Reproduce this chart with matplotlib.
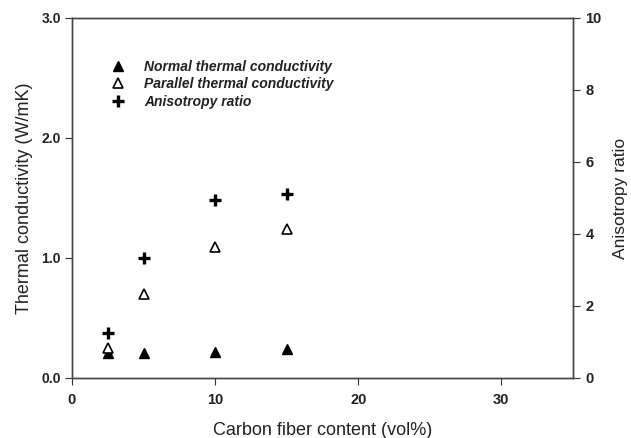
import matplotlib.pyplot as plt

plt.rcParams['font.family'] = ['Liberation Sans', 'DejaVu Sans']

# carbon fiber content (vol%)
fiber = [2.5, 5, 10, 15]
# thermal conductivity (W/mK)
k_normal = [0.21, 0.21, 0.22, 0.24]
k_parallel = [0.25, 0.70, 1.09, 1.24]
# anisotropy ratio
aniso = [1.24, 3.32, 4.93, 5.11]

fig = plt.figure(figsize=(6.31, 4.38), dpi=100)
ax = fig.add_axes([0.114, 0.137, 0.794, 0.822])
ax2 = ax.twinx()

ax.plot(fiber, k_normal, linestyle='none', marker='^', markersize=7,
        color='black', label='Normal thermal conductivity')
ax.plot(fiber, k_parallel, linestyle='none', marker='^', markersize=7,
        markerfacecolor='white', markeredgecolor='black', markeredgewidth=1.2,
        label='Parallel thermal conductivity')
ax2.plot(fiber, aniso, linestyle='none', marker='+', markersize=8,
         markeredgewidth=2.4, color='black', label='Anisotropy ratio')

ax.set_xlim(0, 35)
ax.set_ylim(0, 3.0)
ax2.set_ylim(0, 10)
ax.set_xticks([0, 10, 20, 30])
ax.set_yticks([0, 1, 2, 3])
ax.set_yticklabels(['0.0', '1.0', '2.0', '3.0'])
ax2.set_yticks([0, 2, 4, 6, 8, 10])

for a in (ax, ax2):
    a.tick_params(direction='out', length=5, width=0.8, colors='#333333',
                  labelcolor='#222222')
    for s in a.spines.values():
        s.set_color('#444444')
        s.set_linewidth(1.0)
ax.tick_params(axis='x', labelsize=10.5, pad=6)
ax.tick_params(axis='y', labelsize=10, pad=3)
ax2.tick_params(axis='y', labelsize=10.5, pad=4)
for lab in ax.get_xticklabels() + ax.get_yticklabels() + ax2.get_yticklabels():
    lab.set_fontweight('bold')

ax.set_xlabel('Carbon fiber content (vol%)', fontsize=13, color='#222222', labelpad=10.5)
ax.set_ylabel('Thermal conductivity (W/mK)', fontsize=13, color='#222222', labelpad=6)
ax2.set_ylabel('Anisotropy ratio', fontsize=12.5, color='#222222', labelpad=8)

h1, l1 = ax.get_legend_handles_labels()
h2, l2 = ax2.get_legend_handles_labels()
leg = ax.legend(h1 + h2, l1 + l2, loc='upper left', bbox_to_anchor=(0.065, 0.9),
                frameon=False, handlelength=1.2, handletextpad=1.25,
                labelspacing=0.27, borderaxespad=0,
                prop={'size': 10, 'style': 'italic', 'weight': 'bold'})
for t in leg.get_texts():
    t.set_color('#222222')

fig.savefig('out.png', dpi=100)
